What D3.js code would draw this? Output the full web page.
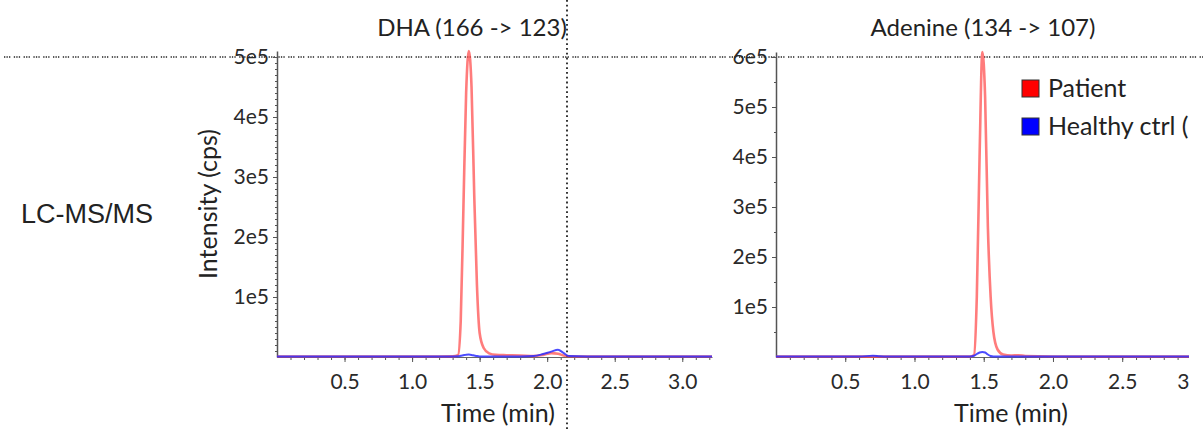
<!DOCTYPE html>
<html>
<head>
<meta charset="utf-8">
<script src="https://cdn.jsdelivr.net/npm/d3@7"></script>
<style>
  body { margin: 0; background: #fff; }
  svg { display: block; }
  .tick text { font-family: Lato, "Open Sans", sans-serif; fill: #2a2a2a; }
</style>
</head>
<body>
<div id="chart"></div>
<script>
// DHA (166 -> 123) chromatogram, time in min, intensity in cps
const dhaTime = [0, 0.3, 0.6, 0.9, 1.2, 1.3, 1.34, 1.36, 1.38, 1.4, 1.42, 1.44, 1.46, 1.48, 1.5, 1.53, 1.57, 1.62, 1.7, 1.8, 1.9, 1.97, 2.03, 2.08, 2.12, 2.16, 2.3, 2.6, 3.0, 3.22];
const dhaPatient = [900, 900, 900, 900, 900, 1000, 3000, 60000, 250000, 440000, 510000, 450000, 270000, 120000, 40000, 15000, 6000, 3500, 3000, 2500, 1500, 3500, 6500, 5500, 2500, 1200, 900, 900, 900, 900];
const dhaHealthy = [1000, 1000, 1000, 1000, 1000, 1000, 1200, 2000, 3000, 3800, 4000, 3500, 2500, 1500, 1000, 1000, 1000, 1000, 1000, 1000, 1500, 5000, 9000, 12000, 7000, 1500, 1000, 1000, 1000, 1000];

// Adenine (134 -> 107) chromatogram
const adenineTime = [0, 0.3, 0.6, 0.7, 0.75, 0.8, 1.0, 1.3, 1.4, 1.43, 1.45, 1.47, 1.49, 1.51, 1.53, 1.55, 1.57, 1.6, 1.64, 1.7, 1.75, 1.8, 2.0, 2.5, 3.0, 3.3];
const adeninePatient = [800, 800, 800, 800, 800, 800, 800, 800, 1000, 4000, 120000, 400000, 610000, 520000, 260000, 120000, 50000, 15000, 5000, 3000, 3500, 2000, 1000, 800, 800, 800];
const adenineHealthy = [1000, 1000, 1000, 2500, 1500, 1000, 1000, 1000, 1000, 2500, 6000, 9000, 10000, 9000, 5000, 2000, 1000, 1000, 1000, 1000, 1000, 1000, 1000, 1000, 1000, 1000];

const xMajorTicks = [0.5, 1.0, 1.5, 2.0, 2.5, 3.0];
const dhaYTicks = [1e5, 2e5, 3e5, 4e5, 5e5];
const adenineYTicks = [1e5, 2e5, 3e5, 4e5, 5e5, 6e5];
const seriesNames = ["Patient", "Healthy ctrl (n=3)"];
const seriesColors = ["#ff4a4a", "#2b2bff"];

const width = 1203;
const height = 430;
const labelFont = "Lato, 'Open Sans', sans-serif";

const svg = d3.select("#chart").append("svg")
  .attr("width", width)
  .attr("height", height);

// crosshair guides (behind everything)
svg.append("line")
  .attr("x1", 4).attr("x2", width).attr("y1", 57).attr("y2", 57)
  .attr("stroke", "#222").attr("stroke-width", 1.3)
  .attr("stroke-dasharray", "1.3,1.2,1.3,1.2,1.3,3.5");
svg.append("line")
  .attr("x1", 567).attr("x2", 567).attr("y1", 0).attr("y2", height)
  .attr("stroke", "#222").attr("stroke-width", 1.8)
  .attr("stroke-dasharray", "1.8,3");

svg.append("text")
  .attr("x", 87).attr("y", 223)
  .attr("text-anchor", "middle")
  .style("font-family", "Liberation Sans, Arial, sans-serif")
  .style("font-size", "27px")
  .style("fill", "#222")
  .text("LC-MS/MS");

svg.append("clipPath").attr("id", "rightClip")
  .append("rect").attr("x", 600).attr("y", 0).attr("width", 589).attr("height", height);

const fmt = (d) => d / 1e5 + "e5";

function drawPanel(p) {
  const g = svg.append("g");
  if (p.clip) g.attr("clip-path", "url(#rightClip)");

  const x = d3.scaleLinear().domain(p.xDomain).range(p.xRange);
  const y = d3.scaleLinear().domain(p.yDomain).range([357, p.yTop]);

  // minor x ticks
  g.append("g")
    .attr("transform", "translate(0,357)")
    .call(d3.axisBottom(x).tickValues(d3.range(1, Math.floor(p.xDomain[1] * 10) + 1).map((d) => d / 10))
      .tickSize(3).tickFormat(""))
    .call((a) => a.select(".domain").remove())
    .selectAll("line").attr("stroke", "#555");

  g.append("g")
    .attr("transform", "translate(0,357)")
    .call(d3.axisBottom(x).tickValues(xMajorTicks).tickSize(5).tickSizeOuter(0).tickPadding(12)
      .tickFormat(d3.format(".1f")))
    .call((a) => a.select(".domain").attr("stroke", "#666"))
    .call((a) => a.selectAll("line").attr("stroke", "#555"))
    .selectAll("text").style("font-size", "21px");

  // minor y ticks
  g.append("g")
    .attr("transform", `translate(${p.xRange[0]},0)`)
    .call(d3.axisLeft(y).tickValues(d3.range(p.yMinorStep, p.yDomain[1], p.yMinorStep))
      .tickSize(2).tickFormat(""))
    .call((a) => a.select(".domain").remove())
    .selectAll("line").attr("stroke", "#555");

  g.append("g")
    .attr("transform", `translate(${p.xRange[0]},0)`)
    .call(d3.axisLeft(y).tickValues(p.yTicks).tickSize(4).tickSizeOuter(0).tickPadding(4).tickFormat(fmt))
    .call((a) => a.select(".domain").attr("stroke", "#555").attr("stroke-width", 1.5))
    .call((a) => a.selectAll("line").attr("stroke", "#555"))
    .selectAll("text").style("font-size", "21px");

  const line = d3.line()
    .x((d) => x(d[0]))
    .y((d) => y(d[1]))
    .curve(d3.curveMonotoneX);

  g.append("path")
    .datum(d3.zip(p.time, p.patient))
    .attr("fill", "none")
    .attr("stroke", seriesColors[0])
    .attr("stroke-opacity", 0.72)
    .attr("stroke-width", 2.6)
    .attr("d", line);

  g.append("path")
    .datum(d3.zip(p.time, p.healthy))
    .attr("fill", "none")
    .attr("stroke", seriesColors[1])
    .attr("stroke-opacity", 0.85)
    .attr("stroke-width", 2)
    .attr("d", line);

  g.append("text")
    .attr("x", p.titleX).attr("y", 36)
    .attr("text-anchor", "middle")
    .style("font-family", labelFont)
    .style("font-size", "24px")
    .style("fill", "#222")
    .text(p.title);

  g.append("text")
    .attr("x", p.xLabelX).attr("y", 422)
    .attr("text-anchor", "middle")
    .style("font-family", labelFont)
    .style("font-size", "25px")
    .style("fill", "#222")
    .text("Time (min)");

  if (p.yLabel) {
    g.append("text")
      .attr("transform", `translate(217,${p.yLabelY}) rotate(-90)`)
      .attr("text-anchor", "middle")
      .style("font-family", labelFont)
      .style("font-size", "25px")
      .style("fill", "#222")
      .text(p.yLabel);
  }

  if (p.legend) {
    const lg = g.append("g").attr("transform", "translate(1022,80)");
    seriesNames.forEach((name, i) => {
      lg.append("rect")
        .attr("x", 0).attr("y", i * 38)
        .attr("width", 17).attr("height", 17)
        .attr("fill", i === 0 ? "#ff0000" : "#0000ff")
        .attr("stroke", "#333").attr("stroke-width", 1);
      lg.append("text")
        .attr("x", 26).attr("y", i * 38 + 17)
        .style("font-family", labelFont)
        .style("font-size", "25px")
        .style("fill", "#222")
        .text(name);
    });
  }
}

drawPanel({
  title: "DHA (166 -> 123)",
  titleX: 472,
  xDomain: [0, 3.22],
  xRange: [277, 712],
  yDomain: [0, 5.1e5],
  yTop: 51,
  yTicks: dhaYTicks,
  yMinorStep: 1e4,
  time: dhaTime,
  patient: dhaPatient,
  healthy: dhaHealthy,
  xLabelX: 498,
  yLabel: "Intensity (cps)",
  yLabelY: 204
});

drawPanel({
  title: "Adenine (134 -> 107)",
  titleX: 983,
  xDomain: [0, 3.3],
  xRange: [776, 1233],
  yDomain: [0, 6.1e5],
  yTop: 52,
  yTicks: adenineYTicks,
  yMinorStep: 5e4,
  time: adenineTime,
  patient: adeninePatient,
  healthy: adenineHealthy,
  xLabelX: 1011,
  clip: true,
  legend: true
});
</script>
</body>
</html>
